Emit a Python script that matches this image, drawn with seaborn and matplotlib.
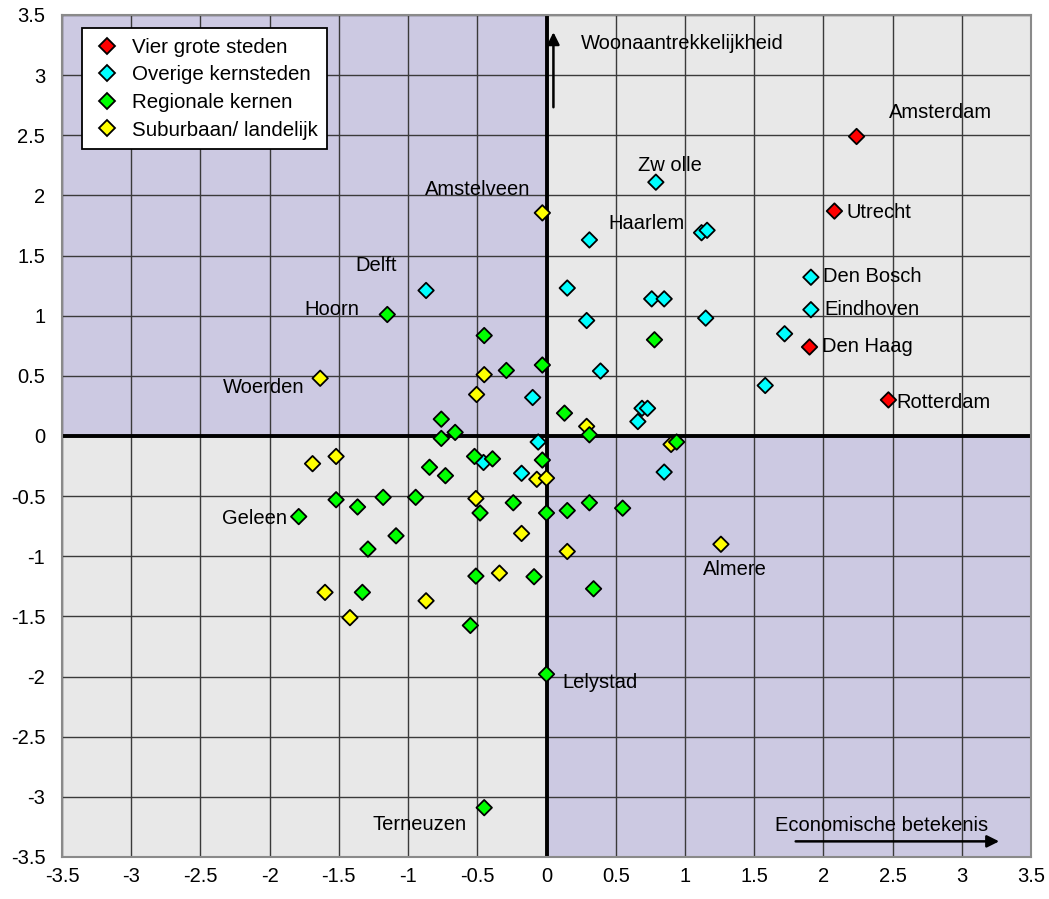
import numpy as np
import pandas as pd
import matplotlib
matplotlib.use("Agg")
import matplotlib.pyplot as plt
import seaborn as sns
from matplotlib.patches import Rectangle

# categorieen
groups = ["Vier grote steden", "Overige kernsteden", "Regionale kernen", "Suburbaan/ landelijk"]
group_colors = ["#FF0000", "#00FFFF", "#00FF00", "#FFFF00"]

# Vier grote steden
red_x = [2.24, 2.08, 1.90, 2.47]
red_y = [2.49, 1.87, 0.74, 0.30]

# Overige kernsteden
cyan_x = [0.79, 0.31, 1.12, 1.16, 1.91, 1.91, -0.87, 0.15, 0.76, 0.85, 1.15, 0.29,
          1.72, 0.39, 1.58, -0.10, 0.69, 0.73, 0.66, -0.06, -0.18, 0.85, -0.455]
cyan_y = [2.11, 1.63, 1.69, 1.71, 1.32, 1.05, 1.21, 1.23, 1.14, 1.14, 0.98, 0.96,
          0.85, 0.54, 0.42, 0.32, 0.23, 0.23, 0.12, -0.05, -0.31, -0.30, -0.22]

# Regionale kernen
green_x = [-1.15, -0.45, 0.78, -0.03, -0.29, 0.13, 0.31, -0.76, -0.66, -0.76, 0.94, -0.03,
           -0.52, -0.39, -0.845, -0.73, -1.52, -1.365, -1.18, -0.945, -1.79, -1.087, -1.29,
           -0.48, -0.24, 0.0, 0.15, 0.31, 0.55, -1.33, -0.51, -0.09, 0.34, -0.55, 0.0, -0.45]
green_y = [1.01, 0.835, 0.80, 0.59, 0.545, 0.19, 0.01, 0.14, 0.03, -0.02, -0.05, -0.20,
           -0.17, -0.19, -0.26, -0.33, -0.53, -0.59, -0.51, -0.51, -0.67, -0.83, -0.94,
           -0.64, -0.555, -0.64, -0.62, -0.555, -0.60, -1.30, -1.165, -1.17, -1.27, -1.575, -1.98, -3.09]

# Suburbaan/ landelijk
yellow_x = [-0.03, -0.45, -1.635, -0.505, 0.29, 0.90, -1.69, -1.52, -0.07, 0.00, -0.51, -0.18,
            0.15, 1.26, -1.60, -1.42, -0.87, -0.34]
yellow_y = [1.855, 0.51, 0.48, 0.345, 0.08, -0.07, -0.23, -0.17, -0.36, -0.35, -0.52, -0.81,
            -0.96, -0.90, -1.30, -1.51, -1.37, -1.14]

# plaatsnamen
city_names = ["Amsterdam", "Zw olle", "Amstelveen", "Haarlem", "Utrecht", "Delft", "Den Bosch",
              "Hoorn", "Eindhoven", "Den Haag", "Woerden", "Rotterdam", "Geleen", "Almere",
              "Lelystad", "Terneuzen"]
city_x = [2.845, 0.895, -0.50, 0.72, 2.166, -1.23, 2.0, -1.55, 2.01, 1.99, -2.04, 2.53,
          -2.11, 1.36, 0.115, -0.92]
city_y = [2.69, 2.25, 2.05, 1.77, 1.86, 1.42, 1.33, 1.05, 1.05, 0.74, 0.40, 0.28,
          -0.69, -1.11, -2.05, -3.23]
city_ha = ["center", "center", "center", "center", "left", "center", "left", "center",
           "left", "left", "center", "left", "center", "center", "left", "center"]

ticks = np.arange(-3.5, 3.51, 0.5)
tick_labels = ["-3.5", "-3", "-2.5", "-2", "-1.5", "-1", "-0.5", "0",
               "0.5", "1", "1.5", "2", "2.5", "3", "3.5"]

# dataframe, geel onderaan en rood bovenaan getekend
df = pd.concat([
    pd.DataFrame({"x": yellow_x, "y": yellow_y, "groep": groups[3]}),
    pd.DataFrame({"x": cyan_x, "y": cyan_y, "groep": groups[1]}),
    pd.DataFrame({"x": green_x, "y": green_y, "groep": groups[2]}),
    pd.DataFrame({"x": red_x, "y": red_y, "groep": groups[0]}),
], ignore_index=True)

plt.rcParams['font.family'] = ['Liberation Sans', 'DejaVu Sans']

fig = plt.figure(figsize=(10.49, 8.99), dpi=100)
ax = fig.add_axes([62 / 1049, 1 - 857 / 899, (1031 - 62) / 1049, (857 - 15) / 899])

grey = "#E8E8E8"
purple = "#CCC9E2"
ax.set_facecolor(grey)
ax.add_patch(Rectangle((-3.5, 0), 3.5, 3.5, facecolor=purple, edgecolor="none", zorder=0))
ax.add_patch(Rectangle((0, -3.5), 3.5, 3.5, facecolor=purple, edgecolor="none", zorder=0))

ax.set_xlim(-3.5, 3.5)
ax.set_ylim(-3.5, 3.5)
ax.set_xticks(ticks)
ax.set_yticks(ticks)
ax.set_xticklabels(tick_labels)
ax.set_yticklabels(tick_labels)
ax.grid(True, color="#3a3a3a", linewidth=1.0, zorder=1)
ax.set_axisbelow(True)
ax.tick_params(length=0, labelsize=14.5)
ax.tick_params(axis="y", pad=12)
ax.tick_params(axis="x", pad=7)
for sp in ax.spines.values():
    sp.set_color("#8a8a8a")
    sp.set_linewidth(1.5)

ax.axvline(0, color="black", linewidth=2.8, zorder=2)
ax.axhline(0, color="black", linewidth=2.8, zorder=2)

sns.scatterplot(data=df, x="x", y="y", hue="groep", hue_order=groups,
                palette=dict(zip(groups, group_colors)), marker="D", s=62,
                edgecolor="black", linewidth=1.3, ax=ax, zorder=3)
ax.set_xlabel("")
ax.set_ylabel("")

for name, tx, ty, ha in zip(city_names, city_x, city_y, city_ha):
    ax.text(tx, ty, name, ha=ha, va="center", fontsize=14.5, zorder=4)

# pijlen
ax.annotate("", xy=(0.05, 3.38), xytext=(0.05, 2.71),
            arrowprops=dict(arrowstyle="-|>", color="black", lw=1.8, mutation_scale=18), zorder=4)
ax.text(0.245, 3.26, "Woonaantrekkelijkheid", ha="left", va="center", fontsize=14.5, zorder=4)
ax.annotate("", xy=(3.29, -3.37), xytext=(1.78, -3.37),
            arrowprops=dict(arrowstyle="-|>", color="black", lw=1.8, mutation_scale=18), zorder=4)
ax.text(2.42, -3.24, "Economische betekenis", ha="center", va="center", fontsize=14.5, zorder=4)

handles, labels = ax.get_legend_handles_labels()
leg = ax.legend(handles, labels, loc="upper left", bbox_to_anchor=(0.021, 0.984),
                fontsize=14.8, frameon=True, fancybox=False, framealpha=1,
                edgecolor="black", borderpad=0.45, labelspacing=0.42,
                handletextpad=0.45, handlelength=1.5, markerscale=1.0, borderaxespad=0)
leg.get_frame().set_linewidth(1.3)
leg.set_zorder(5)

fig.savefig("out.png", dpi=100)
